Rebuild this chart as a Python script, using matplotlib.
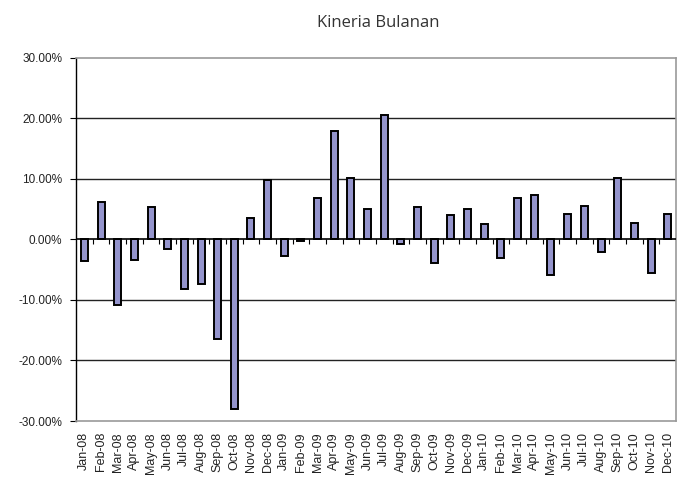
import numpy as np
import matplotlib
matplotlib.use("Agg")
import matplotlib.pyplot as plt
from matplotlib.ticker import FuncFormatter

# monthly performance (%)
months = ["Jan-08", "Feb-08", "Mar-08", "Apr-08", "May-08", "Jun-08",
          "Jul-08", "Aug-08", "Sep-08", "Oct-08", "Nov-08", "Dec-08",
          "Jan-09", "Feb-09", "Mar-09", "Apr-09", "May-09", "Jun-09",
          "Jul-09", "Aug-09", "Sep-09", "Oct-09", "Nov-09", "Dec-09",
          "Jan-10", "Feb-10", "Mar-10", "Apr-10", "May-10", "Jun-10",
          "Jul-10", "Aug-10", "Sep-10", "Oct-10", "Nov-10", "Dec-10"]
returns = [-3.6, 6.2, -10.9, -3.4, 5.3, -1.5,
           -8.1, -7.3, -16.4, -28.0, 3.6, 9.9,
           -2.8, -0.3, 6.9, 18.0, 10.1, 5.1,
           20.5, -0.8, 5.3, -3.9, 4.0, 5.1,
           2.5, -3.1, 6.9, 7.3, -5.8, 4.2,
           5.6, -2.0, 10.1, 2.7, -5.6, 4.2]
yticks = [-30, -20, -10, 0, 10, 20, 30]

fig = plt.figure(figsize=(6.84, 4.79), dpi=100)
ax = fig.add_axes([76 / 684, 1 - 421 / 479, 600 / 684, 363 / 479])

x = np.arange(len(months))
ax.bar(x, returns, width=0.42, color="#9494cc", edgecolor="black", linewidth=1.4, zorder=3)

ax.set_xlim(-0.5, len(months) - 0.5)
ax.set_ylim(-30, 30)

# gridlines
for v in [-20, -10, 10, 20]:
    ax.axhline(v, color="#222222", linewidth=1.0, zorder=1)
ax.axhline(0, color="black", linewidth=1.2, zorder=4)
# category tick marks hanging off the zero line
ax.vlines(x[:-1] + 0.5, 0, -0.7, color="black", linewidth=0.8, zorder=4)

ax.set_yticks(yticks)
ax.yaxis.set_major_formatter(FuncFormatter(lambda v, p: "%.2f%%" % v))
ax.tick_params(axis="y", direction="out", length=4, width=0.8, labelsize=8.5,
               pad=6, labelcolor="#222222")
for lbl in ax.get_yticklabels():
    lbl.set_fontfamily("Liberation Sans")

ax.set_xticks(x)
ax.set_xticklabels(months, rotation=90, fontsize=9, family="Liberation Sans", color="#222222")
ax.tick_params(axis="x", length=0, pad=8)

for side in ["top", "right", "bottom"]:
    ax.spines[side].set_color("#999999")
    ax.spines[side].set_linewidth(1.2)
ax.spines["left"].set_color("black")
ax.spines["left"].set_linewidth(1.0)

fig.text(0.553, 0.952, "Kineria Bulanan", ha="center", va="center",
         fontsize=12, family="Open Sans", color="#333333")

fig.savefig("out.png", dpi=100)
